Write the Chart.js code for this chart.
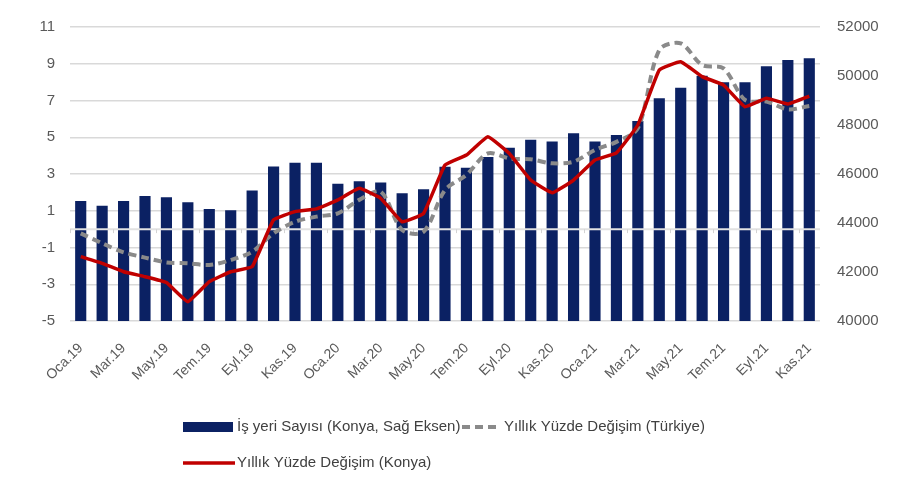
<!DOCTYPE html>
<html lang="tr">
<head>
<meta charset="utf-8">
<title>İş yeri Sayısı ve Yıllık Yüzde Değişim</title>
<script src="https://cdn.jsdelivr.net/npm/chart.js@4/dist/chart.umd.min.js"></script>
<style>
  html, body { margin: 0; padding: 0; background: #ffffff; }
  #wrap { width: 912px; height: 477px; }
</style>
</head>
<body>
<div id="wrap"><canvas id="chart" width="912" height="477"></canvas></div>
<script>
// Months: Ocak 2019 – Kasım 2021
const months = [
  'Oca.19','Şub.19','Mar.19','Nis.19','May.19','Haz.19','Tem.19','Ağu.19','Eyl.19','Eki.19','Kas.19','Ara.19',
  'Oca.20','Şub.20','Mar.20','Nis.20','May.20','Haz.20','Tem.20','Ağu.20','Eyl.20','Eki.20','Kas.20','Ara.20',
  'Oca.21','Şub.21','Mar.21','Nis.21','May.21','Haz.21','Tem.21','Ağu.21','Eyl.21','Eki.21','Kas.21'
];

// Number of workplaces in Konya (right axis)
const isyeriSayisi = [
  44900, 44700, 44900, 45100, 45050, 44850, 44570, 44520, 45330, 46310, 46460, 46460,
  45600, 45700, 45650, 45210, 45380, 46300, 46260, 46690, 47070, 47400, 47330, 47660,
  47330, 47590, 48160, 49090, 49520, 50010, 49740, 49740, 50400, 50650, 50720
];

// Annual % change, Konya (left axis)
const degisimKonya = [
  -1.5, -1.86, -2.32, -2.59, -2.91, -3.95, -2.86, -2.32, -2.04, 0.5, 0.95, 1.1,
  1.59, 2.22, 1.68, 0.4, 0.86, 3.49, 4.03, 5.03, 4.12, 2.67, 1.98, 2.67,
  3.76, 4.15, 5.67, 8.66, 9.11, 8.3, 7.84, 6.66, 7.12, 6.81, 7.24
];

// Annual % change, Türkiye (left axis)
const degisimTurkiye = [
  -0.23, -0.77, -1.26, -1.55, -1.81, -1.86, -1.95, -1.68, -1.23, -0.23, 0.4, 0.68,
  0.86, 1.59, 2.04, -0.05, -0.14, 2.13, 2.95, 4.12, 3.85, 3.8, 3.58, 3.67,
  4.31, 4.75, 5.49, 9.75, 10.11, 8.93, 8.75, 7.03, 6.94, 6.52, 6.7
];

// Axis ranges
const leftMin = -5, leftMax = 11, leftStep = 2;
const rightMin = 40000, rightMax = 52000, rightStep = 2000;

const FONT = "'Liberation Sans', Arial, sans-serif";
const NAVY = '#0b2163';
const RED = '#c00000';
const GREY = '#8a8a8a';
const TICK_COLOR = '#595959';

// Horizontal axis line at 0 drawn over the bars, with small category ticks
const zeroLinePlugin = {
  id: 'zeroLine',
  afterDatasetDraw(chart, args) {
    if (args.index !== 2) return;
    const { ctx, chartArea, scales } = chart;
    const y = scales.y.getPixelForValue(0);
    ctx.save();
    ctx.strokeStyle = '#e2e2e2';
    ctx.lineWidth = 2;
    ctx.beginPath();
    ctx.moveTo(chartArea.left, y);
    ctx.lineTo(chartArea.right, y);
    ctx.stroke();
    const n = months.length;
    const w = (chartArea.right - chartArea.left) / n;
    ctx.lineWidth = 1;
    ctx.strokeStyle = '#d4d4d4';
    for (let i = 0; i <= n; i += 2) {
      const x = Math.round(chartArea.left + i * w) + 0.5;
      ctx.beginPath();
      ctx.moveTo(x, y);
      ctx.lineTo(x, y + 4);
      ctx.stroke();
    }
    ctx.restore();
  }
};

// Two-row legend under the plot
const legendPlugin = {
  id: 'twoRowLegend',
  afterDraw(chart) {
    const ctx = chart.ctx;
    const ds = chart.data.datasets;
    ctx.save();
    ctx.font = '15px ' + FONT;
    ctx.fillStyle = '#404040';
    ctx.textBaseline = 'middle';

    // Row 1: bars
    const r1 = 427;
    ctx.fillStyle = NAVY;
    ctx.fillRect(183, 422, 50, 10);
    ctx.fillStyle = '#404040';
    ctx.fillText(ds[2].label, 237, r1);

    // Row 1: Türkiye dashed line
    ctx.strokeStyle = GREY;
    ctx.lineWidth = 4;
    ctx.setLineDash([8, 5]);
    ctx.beginPath();
    ctx.moveTo(462, r1);
    ctx.lineTo(501, r1);
    ctx.stroke();
    ctx.setLineDash([]);
    ctx.fillText(ds[1].label, 504, r1);

    // Row 2: Konya line
    const r2 = 463;
    ctx.strokeStyle = RED;
    ctx.lineWidth = 3.5;
    ctx.beginPath();
    ctx.moveTo(183, r2);
    ctx.lineTo(235, r2);
    ctx.stroke();
    ctx.fillText(ds[0].label, 237, r2);
    ctx.restore();
  }
};

new Chart(document.getElementById('chart'), {
  type: 'bar',
  data: {
    labels: months,
    datasets: [
      {
        type: 'line',
        label: 'Yıllık Yüzde Değişim (Konya)',
        data: degisimKonya,
        yAxisID: 'y',
        borderColor: RED,
        backgroundColor: RED,
        borderWidth: 3.5,
        pointRadius: 0,
        tension: 0.1,
        order: 1
      },
      {
        type: 'line',
        label: 'Yıllık Yüzde Değişim (Türkiye)',
        data: degisimTurkiye,
        yAxisID: 'y',
        borderColor: GREY,
        backgroundColor: GREY,
        borderWidth: 4,
        borderDash: [8, 5],
        pointRadius: 0,
        tension: 0.3,
        order: 2
      },
      {
        type: 'bar',
        label: 'İş yeri Sayısı (Konya, Sağ Eksen)',
        data: isyeriSayisi,
        yAxisID: 'y2',
        backgroundColor: NAVY,
        barPercentage: 0.52,
        categoryPercentage: 1,
        order: 3
      }
    ]
  },
  options: {
    responsive: false,
    animation: false,
    layout: { padding: { top: 27, left: 0, right: 0, bottom: 0 } },
    plugins: {
      legend: { display: false },
      tooltip: { enabled: false }
    },
    scales: {
      x: {
        grid: { display: false, drawTicks: false },
        border: { display: false },
        ticks: {
          autoSkip: false,
          minRotation: 45,
          maxRotation: 45,
          padding: 19,
          color: TICK_COLOR,
          font: { family: FONT, size: 14 },
          callback: (v, i) => (i % 2 === 0 ? months[i] : '')
        },
        afterFit: s => { s.height = 156; }
      },
      y: {
        position: 'left',
        min: leftMin,
        max: leftMax,
        grid: { color: '#d9d9d9', lineWidth: 1.5, drawTicks: false },
        border: { display: false },
        ticks: {
          stepSize: leftStep,
          padding: 15,
          color: TICK_COLOR,
          font: { family: FONT, size: 15 }
        },
        afterFit: s => { s.width = 70; }
      },
      y2: {
        position: 'right',
        min: rightMin,
        max: rightMax,
        grid: { display: false, drawTicks: false },
        border: { display: false },
        ticks: {
          stepSize: rightStep,
          padding: 17,
          color: TICK_COLOR,
          font: { family: FONT, size: 15 },
          callback: v => String(v)
        },
        afterFit: s => { s.width = 92; }
      }
    }
  },
  plugins: [zeroLinePlugin, legendPlugin]
});
</script>
</body>
</html>
